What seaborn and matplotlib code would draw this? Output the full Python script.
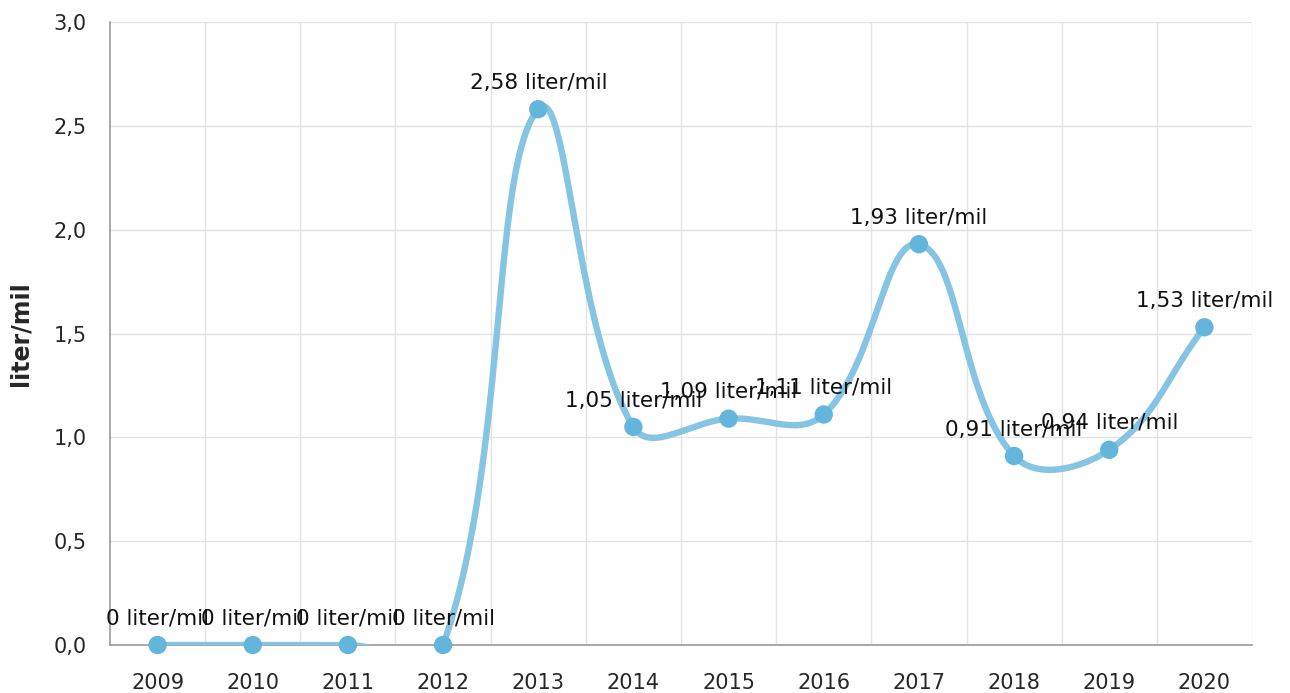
import numpy as np
import pandas as pd
import matplotlib
matplotlib.use("Agg")
import matplotlib.pyplot as plt
from matplotlib.ticker import FuncFormatter, MultipleLocator, FixedLocator
import seaborn as sns

years = ["2009", "2010", "2011", "2012", "2013", "2014", "2015", "2016", "2017", "2018", "2019", "2020"]
values = [0, 0, 0, 0, 2.58, 1.05, 1.09, 1.11, 1.93, 0.91, 0.94, 1.53]
labels = ["0 liter/mil", "0 liter/mil", "0 liter/mil", "0 liter/mil", "2,58 liter/mil",
          "1,05 liter/mil", "1,09 liter/mil", "1,11 liter/mil", "1,93 liter/mil",
          "0,91 liter/mil", "0,94 liter/mil", "1,53 liter/mil"]

LINE = "#85c4e3"
DOT = "#63b5dc"
TENSION = 0.4


def smooth_path(px, py, tension=TENSION, steps=60):
    # bezier spline in pixel space, control points weighted by neighbour distances
    n = len(px)
    cp_prev = np.zeros((n, 2))
    cp_next = np.zeros((n, 2))
    for i in range(n):
        p = np.array([px[i], py[i]])
        a = np.array([px[max(i - 1, 0)], py[max(i - 1, 0)]])
        b = np.array([px[min(i + 1, n - 1)], py[min(i + 1, n - 1)]])
        d01 = np.hypot(*(p - a))
        d12 = np.hypot(*(b - p))
        tot = d01 + d12
        s01 = d01 / tot if tot else 0
        s12 = d12 / tot if tot else 0
        cp_prev[i] = p - tension * s01 * (b - a)
        cp_next[i] = p + tension * s12 * (b - a)
    out = []
    s = np.linspace(0, 1, steps)[:, None]
    for i in range(n - 1):
        p0 = np.array([px[i], py[i]])
        p3 = np.array([px[i + 1], py[i + 1]])
        seg = ((1 - s) ** 3) * p0 + 3 * ((1 - s) ** 2) * s * cp_next[i] \
            + 3 * (1 - s) * s ** 2 * cp_prev[i + 1] + s ** 3 * p3
        out.append(seg if i == 0 else seg[1:])
    return np.vstack(out)


sns.set_style("white")
plt.rcParams["font.family"] = ["DejaVu Sans"]

fig = plt.figure(figsize=(12.9, 6.93), dpi=100)
ax = fig.add_axes([110 / 1290, 48 / 693, 1142 / 1290, 623 / 693])
ax.set_xlim(-0.5, len(years) - 0.5)
ax.set_ylim(0, 3)

xs = np.arange(len(years))
pix = ax.transData.transform(np.column_stack([xs, values]))
path = smooth_path(pix[:, 0], pix[:, 1])
dat = ax.transData.inverted().transform(path)
curve = pd.DataFrame({"x": dat[:, 0], "y": dat[:, 1]})
pts = pd.DataFrame({"x": xs, "y": values})

sns.lineplot(data=curve, x="x", y="y", ax=ax, color=LINE, linewidth=4.6, sort=False,
             estimator=None, zorder=3)
sns.scatterplot(data=pts, x="x", y="y", ax=ax, color=DOT, s=175, edgecolor="none",
                zorder=4, clip_on=False)

for i, lab in enumerate(labels):
    ax.annotate(lab, (i, values[i]), xytext=(0, 19), textcoords="offset points",
                ha="center", va="center", fontsize=15.5, color="#111111", zorder=5,
                annotation_clip=False)

ax.set_xlim(-0.5, len(years) - 0.5)
ax.set_ylim(0, 3)
ax.set_xticks(range(len(years)))
ax.set_xticklabels(years)
ax.xaxis.set_minor_locator(FixedLocator(np.arange(0.5, len(years), 1.0)))
ax.yaxis.set_major_locator(MultipleLocator(0.5))
ax.yaxis.set_major_formatter(FuncFormatter(lambda v, p: f"{v:.1f}".replace(".", ",")))

ax.grid(True, which="minor", axis="x", color="#e3e3e3", linewidth=1)
ax.grid(True, which="major", axis="y", color="#e3e3e3", linewidth=1)
ax.set_axisbelow(True)

for s in ["top", "right"]:
    ax.spines[s].set_visible(False)
for s in ["left", "bottom"]:
    ax.spines[s].set_color("#9a9a9a")
    ax.spines[s].set_linewidth(1.2)

ax.tick_params(axis="x", which="major", length=6.5, color="#9a9a9a", labelsize=15, pad=14)
ax.tick_params(axis="x", which="minor", length=0)
ax.tick_params(axis="y", length=7, color="#9a9a9a", labelsize=15, pad=10)

ax.set_xlabel("")
ax.set_ylabel("liter/mil", fontsize=17, fontweight="bold")
ax.yaxis.set_label_coords(-78 / 1142, 0.5)

fig.savefig("out.png", dpi=100)
